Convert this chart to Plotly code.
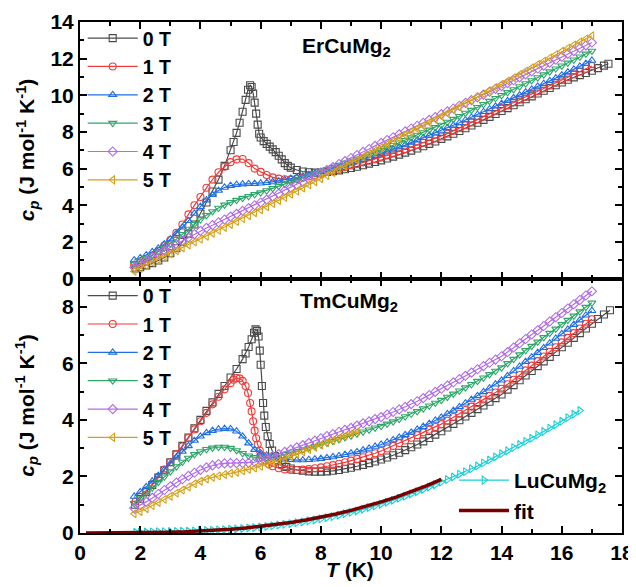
import plotly.graph_objects as go

# ---------------- data ----------------
# common temperature grid (K) for most series
T_GRID = [1.8, 2.0, 2.2, 2.4, 2.6, 2.8, 3.0, 3.2, 3.4, 3.6,
          3.8, 4.0, 4.2, 4.4, 4.6, 4.8, 5.0, 5.2, 5.4, 5.6,
          5.8, 6.0, 6.2, 6.4, 6.6, 6.8, 7.0, 7.2, 7.4, 7.6,
          7.8, 8.0, 8.2, 8.4, 8.6, 8.8, 9.0, 9.2, 9.4, 9.6,
          9.8, 10.0, 10.2, 10.4, 10.6, 10.8, 11.0, 11.2, 11.4, 11.6,
          11.8, 12.0, 12.2, 12.4, 12.6, 12.8, 13.0, 13.2, 13.4, 13.6,
          13.8, 14.0, 14.2, 14.4, 14.6, 14.8, 15.0, 15.2, 15.4, 15.6,
          15.8, 16.0, 16.2, 16.4, 16.6, 16.8, 17.0]

# ---- ErCuMg2 (top panel) ----
ER_0T = [(1.85, 0.55), (2.0, 0.62), (2.2, 0.72), (2.4, 0.84), (2.6, 0.98), (2.8, 1.15),
         (3.0, 1.38), (3.2, 1.65), (3.4, 2.0), (3.6, 2.45), (3.8, 2.95), (4.0, 3.55),
         (4.2, 4.15), (4.4, 4.75), (4.6, 5.4), (4.8, 6.15), (5.0, 7.0), (5.1, 7.45),
         (5.2, 7.95), (5.3, 8.5), (5.4, 9.1), (5.5, 9.75), (5.58, 10.3), (5.65, 10.55),
         (5.7, 10.45), (5.75, 10.1), (5.8, 9.6), (5.85, 9.0), (5.9, 8.4), (5.95, 7.9),
         (6.0, 7.7), (6.1, 7.5), (6.2, 7.35), (6.3, 7.2), (6.4, 7.05), (6.5, 6.9),
         (6.6, 6.7), (6.7, 6.5), (6.8, 6.3), (6.9, 6.15), (7.0, 6.05), (7.2, 5.92),
         (7.4, 5.84), (7.6, 5.8), (7.8, 5.78), (8.0, 5.79), (8.2, 5.82), (8.4, 5.86),
         (8.6, 5.9), (8.8, 5.96), (9.0, 6.03), (9.2, 6.1), (9.4, 6.18), (9.6, 6.27),
         (9.8, 6.36), (10.0, 6.45), (10.2, 6.55), (10.4, 6.65), (10.6, 6.76), (10.8, 6.87),
         (11.0, 6.98), (11.2, 7.1), (11.4, 7.22), (11.6, 7.35), (11.8, 7.48), (12.0, 7.62),
         (12.2, 7.76), (12.4, 7.9), (12.6, 8.05), (12.8, 8.2), (13.0, 8.35), (13.2, 8.5),
         (13.4, 8.66), (13.6, 8.82), (13.8, 8.98), (14.0, 9.14), (14.2, 9.3), (14.4, 9.46),
         (14.6, 9.62), (14.8, 9.78), (15.0, 9.94), (15.2, 10.1), (15.4, 10.25), (15.6, 10.4),
         (15.8, 10.55), (16.0, 10.7), (16.2, 10.85), (16.4, 10.98), (16.6, 11.1), (16.8, 11.22),
         (17.0, 11.34), (17.2, 11.48), (17.4, 11.62), (17.55, 11.72)]

ER_1T = [0.75, 0.88, 1.05, 1.25, 1.5, 1.8, 2.1, 2.5, 2.95, 3.5,
         4.0, 4.45, 4.95, 5.4, 5.8, 6.1, 6.35, 6.5, 6.52, 6.3,
         6.0, 5.82, 5.65, 5.52, 5.45, 5.42, 5.42, 5.45, 5.5, 5.57,
         5.65, 5.73, 5.82, 5.9, 5.99, 6.08, 6.17, 6.25, 6.34, 6.43,
         6.51, 6.6, 6.72, 6.83, 6.95, 7.06, 7.18, 7.29, 7.41, 7.52,
         7.64, 7.75, 7.9, 8.06, 8.21, 8.37, 8.52, 8.68, 8.83, 8.99,
         9.14, 9.3, 9.45, 9.61, 9.76, 9.91, 10.07, 10.22, 10.37, 10.53,
         10.68, 10.83, 10.99, 11.14, 11.29, 11.45, 11.6]

ER_2T = [1.0, 1.12, 1.28, 1.45, 1.65, 1.88, 2.15, 2.45, 2.8, 3.15,
         3.55, 3.92, 4.28, 4.58, 4.8, 4.97, 5.07, 5.12, 5.15, 5.17,
         5.18, 5.2, 5.23, 5.27, 5.32, 5.38, 5.45, 5.52, 5.59, 5.67,
         5.75, 5.83, 5.91, 6.0, 6.09, 6.18, 6.28, 6.38, 6.48, 6.59,
         6.7, 6.81, 6.93, 7.05, 7.17, 7.29, 7.42, 7.55, 7.68, 7.81,
         7.94, 8.08, 8.22, 8.36, 8.5, 8.65, 8.8, 8.95, 9.1, 9.25,
         9.4, 9.55, 9.7, 9.86, 10.01, 10.17, 10.32, 10.48, 10.63, 10.79,
         10.94, 11.1, 11.26, 11.41, 11.57, 11.73, 11.9]

ER_3T = [0.8, 0.95, 1.1, 1.27, 1.46, 1.67, 1.9, 2.15, 2.42, 2.7,
         2.97, 3.22, 3.45, 3.66, 3.85, 4.02, 4.16, 4.28, 4.39, 4.49,
         4.59, 4.69, 4.8, 4.92, 5.04, 5.16, 5.28, 5.4, 5.51, 5.62,
         5.74, 5.85, 5.96, 6.08, 6.19, 6.31, 6.42, 6.54, 6.65, 6.77,
         6.88, 7.0, 7.13, 7.27, 7.41, 7.55, 7.69, 7.83, 7.97, 8.11,
         8.25, 8.38, 8.54, 8.7, 8.86, 9.03, 9.19, 9.35, 9.51, 9.68,
         9.84, 10.0, 10.16, 10.32, 10.48, 10.64, 10.81, 10.97, 11.13, 11.29,
         11.45, 11.61, 11.77, 11.94, 12.1, 12.26, 12.42]

ER_4T = [0.62, 0.79, 0.97, 1.15, 1.33, 1.51, 1.69, 1.87, 2.05, 2.23,
         2.42, 2.6, 2.76, 2.91, 3.07, 3.22, 3.38, 3.53, 3.69, 3.84,
         4.0, 4.15, 4.31, 4.47, 4.63, 4.79, 4.95, 5.11, 5.27, 5.43,
         5.59, 5.75, 5.92, 6.08, 6.25, 6.41, 6.58, 6.74, 6.91, 7.07,
         7.24, 7.4, 7.56, 7.71, 7.87, 8.03, 8.19, 8.34, 8.5, 8.66,
         8.81, 8.97, 9.12, 9.28, 9.43, 9.59, 9.74, 9.89, 10.04, 10.2,
         10.35, 10.5, 10.66, 10.82, 10.98, 11.14, 11.3, 11.46, 11.62, 11.78,
         11.94, 12.1, 12.26, 12.41, 12.57, 12.72, 12.88]

ER_5T = [0.4, 0.56, 0.72, 0.88, 1.04, 1.2, 1.35, 1.51, 1.67, 1.83,
         1.99, 2.15, 2.31, 2.47, 2.63, 2.79, 2.95, 3.11, 3.27, 3.43,
         3.59, 3.75, 3.92, 4.09, 4.26, 4.43, 4.6, 4.77, 4.94, 5.11,
         5.28, 5.45, 5.62, 5.79, 5.96, 6.13, 6.3, 6.47, 6.64, 6.81,
         6.98, 7.15, 7.32, 7.49, 7.66, 7.83, 8.0, 8.17, 8.34, 8.51,
         8.68, 8.85, 9.02, 9.2, 9.37, 9.55, 9.72, 9.9, 10.07, 10.25,
         10.42, 10.6, 10.78, 10.96, 11.14, 11.32, 11.5, 11.68, 11.86, 12.04,
         12.22, 12.4, 12.57, 12.74, 12.91, 13.08, 13.25]

# ---- TmCuMg2 (bottom panel) ----
TM_0T = [(1.83, 1.0), (2.0, 1.2), (2.2, 1.45), (2.4, 1.7), (2.6, 1.96), (2.8, 2.22),
         (3.0, 2.5), (3.2, 2.78), (3.4, 3.08), (3.6, 3.38), (3.8, 3.7), (4.0, 4.0),
         (4.2, 4.32), (4.4, 4.62), (4.6, 4.92), (4.8, 5.2), (5.0, 5.5), (5.2, 5.8),
         (5.4, 6.15), (5.5, 6.35), (5.6, 6.58), (5.7, 6.85), (5.78, 7.08), (5.83, 7.2),
         (5.88, 7.15), (5.93, 6.95), (5.97, 6.45), (6.0, 5.95), (6.04, 5.2), (6.08, 4.6),
         (6.12, 4.15), (6.17, 3.75), (6.23, 3.42), (6.3, 3.15), (6.38, 2.92), (6.47, 2.72),
         (6.57, 2.57), (6.7, 2.44), (6.85, 2.34), (7.0, 2.28), (7.2, 2.23), (7.4, 2.2),
         (7.6, 2.18), (7.8, 2.17), (8.0, 2.17), (8.2, 2.18), (8.4, 2.2), (8.6, 2.23),
         (8.8, 2.27), (9.0, 2.31), (9.2, 2.36), (9.4, 2.41), (9.6, 2.47), (9.8, 2.53),
         (10.0, 2.6), (10.2, 2.67), (10.4, 2.75), (10.6, 2.84), (10.8, 2.93), (11.0, 3.03),
         (11.2, 3.13), (11.4, 3.24), (11.6, 3.36), (11.8, 3.48), (12.0, 3.6), (12.2, 3.73),
         (12.4, 3.86), (12.6, 3.99), (12.8, 4.12), (13.0, 4.25), (13.2, 4.38), (13.4, 4.51),
         (13.6, 4.64), (13.8, 4.77), (14.0, 4.9), (14.2, 5.07), (14.4, 5.23), (14.6, 5.4),
         (14.8, 5.57), (15.0, 5.73), (15.2, 5.9), (15.4, 6.07), (15.6, 6.23), (15.8, 6.4),
         (16.0, 6.57), (16.2, 6.73), (16.4, 6.9), (16.6, 7.07), (16.8, 7.23), (17.0, 7.4),
         (17.2, 7.57), (17.4, 7.73), (17.6, 7.88)]

TM_1T = [(1.85, 1.12), (2.0, 1.28), (2.2, 1.5), (2.4, 1.73), (2.6, 1.98), (2.8, 2.24),
         (3.0, 2.5), (3.2, 2.78), (3.4, 3.06), (3.6, 3.36), (3.8, 3.66), (4.0, 3.95),
         (4.2, 4.25), (4.4, 4.55), (4.6, 4.82), (4.8, 5.08), (5.0, 5.3), (5.1, 5.42),
         (5.2, 5.48), (5.3, 5.47), (5.4, 5.38), (5.5, 5.2), (5.58, 4.95), (5.65, 4.6),
         (5.7, 4.3), (5.75, 3.95), (5.8, 3.62), (5.85, 3.35), (5.9, 3.13), (5.97, 2.92),
         (6.05, 2.74), (6.15, 2.57), (6.27, 2.44), (6.4, 2.36), (6.6, 2.29), (6.8, 2.25),
         (7.0, 2.23), (7.2, 2.23), (7.4, 2.24), (7.6, 2.26), (7.8, 2.29), (8.0, 2.32),
         (8.2, 2.36), (8.4, 2.4), (8.6, 2.45), (8.8, 2.5), (9.0, 2.56), (9.2, 2.62),
         (9.4, 2.68), (9.6, 2.75), (9.8, 2.82), (10.0, 2.9), (10.2, 2.99), (10.4, 3.08),
         (10.6, 3.18), (10.8, 3.27), (11.0, 3.37), (11.2, 3.46), (11.4, 3.56), (11.6, 3.65),
         (11.8, 3.75), (12.0, 3.85), (12.2, 3.97), (12.4, 4.1), (12.6, 4.22), (12.8, 4.35),
         (13.0, 4.47), (13.2, 4.6), (13.4, 4.72), (13.6, 4.85), (13.8, 4.97), (14.0, 5.1),
         (14.2, 5.26), (14.4, 5.42), (14.6, 5.59), (14.8, 5.75), (15.0, 5.92), (15.2, 6.08),
         (15.4, 6.24), (15.6, 6.41), (15.8, 6.57), (16.0, 6.74), (16.2, 6.9), (16.4, 7.07),
         (16.6, 7.23), (16.8, 7.4), (17.0, 7.56)]

TM_2T = [1.29, 1.45, 1.63, 1.83, 2.03, 2.23, 2.45, 2.67, 2.88, 3.08,
         3.27, 3.42, 3.54, 3.62, 3.67, 3.69, 3.68, 3.6, 3.42, 3.18,
         2.95, 2.82, 2.74, 2.68, 2.64, 2.61, 2.59, 2.58, 2.58, 2.59,
         2.61, 2.63, 2.66, 2.69, 2.73, 2.77, 2.82, 2.87, 2.93, 2.99,
         3.06, 3.13, 3.21, 3.29, 3.38, 3.47, 3.56, 3.66, 3.76, 3.87,
         3.98, 4.09, 4.21, 4.33, 4.46, 4.59, 4.72, 4.85, 4.99, 5.12,
         5.26, 5.4, 5.56, 5.73, 5.89, 6.06, 6.22, 6.38, 6.55, 6.71,
         6.88, 7.04, 7.2, 7.37, 7.53, 7.7, 7.86]

TM_3T = [1.05, 1.22, 1.4, 1.6, 1.8, 1.99, 2.17, 2.35, 2.51, 2.65,
         2.78, 2.88, 2.96, 3.01, 3.04, 3.04, 3.0, 2.92, 2.82, 2.73,
         2.68, 2.66, 2.67, 2.7, 2.74, 2.79, 2.84, 2.89, 2.95, 3.01,
         3.07, 3.13, 3.19, 3.25, 3.31, 3.38, 3.44, 3.51, 3.58, 3.65,
         3.72, 3.78, 3.86, 3.94, 4.03, 4.12, 4.21, 4.3, 4.4, 4.5,
         4.6, 4.7, 4.81, 4.92, 5.03, 5.14, 5.26, 5.37, 5.49, 5.61,
         5.73, 5.85, 6.0, 6.15, 6.31, 6.46, 6.61, 6.76, 6.92, 7.07,
         7.22, 7.38, 7.53, 7.68, 7.83, 7.99, 8.14]

TM_4T = [0.88, 0.98, 1.1, 1.24, 1.38, 1.52, 1.65, 1.78, 1.9, 2.02,
         2.13, 2.23, 2.32, 2.39, 2.44, 2.46, 2.47, 2.47, 2.47, 2.48,
         2.51, 2.56, 2.63, 2.71, 2.79, 2.87, 2.95, 3.03, 3.11, 3.19,
         3.27, 3.35, 3.43, 3.5, 3.58, 3.65, 3.72, 3.8, 3.88, 3.95,
         4.03, 4.1, 4.19, 4.28, 4.37, 4.46, 4.56, 4.66, 4.77, 4.88,
         4.99, 5.1, 5.21, 5.33, 5.44, 5.56, 5.67, 5.79, 5.9, 6.02,
         6.13, 6.25, 6.4, 6.56, 6.71, 6.86, 7.02, 7.17, 7.32, 7.48,
         7.63, 7.78, 7.94, 8.09, 8.24, 8.4, 8.55]

# 5 T data for TmCuMg2 stop at 9.2 K
TM_5T = [0.68, 0.76, 0.86, 0.97, 1.08, 1.19, 1.3, 1.41, 1.52, 1.63,
         1.74, 1.83, 1.91, 1.97, 2.02, 2.07, 2.11, 2.15, 2.2, 2.25,
         2.3, 2.36, 2.42, 2.49, 2.56, 2.63, 2.71, 2.79, 2.87, 2.95,
         3.03, 3.11, 3.19, 3.27, 3.35, 3.43, 3.5, 3.57]

# LuCuMg2 reference and its fit
LU_T = [1.85, 2.0, 2.2, 2.4, 2.6, 2.8, 3.0, 3.2, 3.4, 3.6,
        3.8, 4.0, 4.2, 4.4, 4.6, 4.8, 5.0, 5.2, 5.4, 5.6,
        5.8, 6.0, 6.2, 6.4, 6.6, 6.8, 7.0, 7.2, 7.4, 7.6,
        7.8, 8.0, 8.2, 8.4, 8.6, 8.8, 9.0, 9.2, 9.4, 9.6,
        9.8, 10.0, 10.2, 10.4, 10.6, 10.8, 11.0, 11.2, 11.4, 11.6,
        11.8, 12.0, 12.2, 12.4, 12.6, 12.8, 13.0, 13.2, 13.4, 13.6,
        13.8, 14.0, 14.2, 14.4, 14.6, 14.8, 15.0, 15.2, 15.4, 15.6,
        15.8, 16.0, 16.2, 16.4, 16.6]
LU_CP = [0.03, 0.03, 0.035, 0.04, 0.043, 0.047, 0.05, 0.055, 0.06, 0.067,
         0.074, 0.08, 0.09, 0.1, 0.11, 0.12, 0.13, 0.145, 0.16, 0.175,
         0.19, 0.21, 0.23, 0.255, 0.28, 0.305, 0.33, 0.36, 0.39, 0.43,
         0.46, 0.5, 0.54, 0.58, 0.63, 0.68, 0.73, 0.78, 0.84, 0.9,
         0.96, 1.02, 1.09, 1.16, 1.23, 1.3, 1.38, 1.46, 1.54, 1.63,
         1.71, 1.8, 1.89, 1.98, 2.08, 2.17, 2.27, 2.37, 2.48, 2.58,
         2.69, 2.8, 2.91, 3.02, 3.13, 3.24, 3.35, 3.47, 3.59, 3.71,
         3.83, 3.95, 4.08, 4.2, 4.33]
FIT_T = [0.2, 0.5, 1.0, 1.5, 2.0, 2.5, 3.0, 3.5, 4.0, 4.5, 5.0, 5.5, 6.0,
         6.5, 7.0, 7.5, 8.0, 8.5, 9.0, 9.5, 10.0, 10.5, 11.0, 11.5, 12.0]
FIT_CP = [0.0, 0.0, 0.002, 0.004, 0.009, 0.017, 0.03, 0.047, 0.07, 0.1, 0.135, 0.18, 0.235,
          0.3, 0.37, 0.46, 0.56, 0.67, 0.8, 0.94, 1.1, 1.27, 1.46, 1.67, 1.9]

FIELDS = ["0 T", "1 T", "2 T", "3 T", "4 T", "5 T"]
COLORS = ["#4a4a4a", "#f23c3c", "#1f6fe3", "#2fa66a", "#b06ee8", "#d6a11a"]
SYMBOLS = ["square-open", "circle-open", "triangle-up-open",
           "triangle-down-open", "diamond-open", "triangle-left-open"]
LU_COLOR = "#19cfd6"
FIT_COLOR = "#7a0000"

FONT = "Arial, 'Liberation Sans', sans-serif"
FS = 21

fig = go.Figure()


def unzip(pairs):
    return [p[0] for p in pairs], [p[1] for p in pairs]


def add_series(x, y, i, xa, ya, leg):
    fig.add_trace(go.Scatter(
        x=x, y=y, name=FIELDS[i], mode="lines+markers",
        line=dict(color=COLORS[i], width=1.2),
        marker=dict(symbol=SYMBOLS[i], size=7, color=COLORS[i],
                    line=dict(width=1.1, color=COLORS[i])),
        xaxis=xa, yaxis=ya, legend=leg))


# top panel: ErCuMg2
er_series = [unzip(ER_0T), (T_GRID, ER_1T), (T_GRID, ER_2T),
             (T_GRID, ER_3T), (T_GRID, ER_4T), (T_GRID, ER_5T)]
for i, (x, y) in enumerate(er_series):
    add_series(x, y, i, "x2", "y2", "legend")

# bottom panel: TmCuMg2
tm_series = [unzip(TM_0T), unzip(TM_1T), (T_GRID, TM_2T),
             (T_GRID, TM_3T), (T_GRID, TM_4T), (T_GRID[:len(TM_5T)], TM_5T)]
for i, (x, y) in enumerate(tm_series):
    add_series(x, y, i, "x", "y", "legend2")

fig.add_trace(go.Scatter(
    x=LU_T, y=LU_CP, name="LuCuMg<sub>2</sub>", mode="lines+markers",
    line=dict(color=LU_COLOR, width=1.2),
    marker=dict(symbol="triangle-right-open", size=7, color=LU_COLOR,
                line=dict(width=1.1, color=LU_COLOR)),
    xaxis="x", yaxis="y", legend="legend3"))
fig.add_trace(go.Scatter(
    x=FIT_T, y=FIT_CP, name="fit", mode="lines",
    line=dict(color=FIT_COLOR, width=3.5),
    xaxis="x", yaxis="y", legend="legend3"))

axis_common = dict(
    showline=True, linewidth=2, linecolor="black", mirror="allticks",
    ticks="inside", ticklen=7, tickwidth=2, tickcolor="black",
    minor=dict(ticks="inside", ticklen=4, tickwidth=2, tickcolor="black", dtick=1),
    showgrid=False, zeroline=False, automargin=False, ticklabeloverflow="allow",
    tickfont=dict(family=FONT, size=FS, color="black", weight="bold"),
)

ytitle = "<i>c<sub>p</sub></i> (J mol<sup>-1</sup> K<sup>-1</sup>)"
SPLIT = 0.498
txt_font = dict(family=FONT, size=FS, color="black", weight="bold")
leg_font = dict(family=FONT, size=19.5, color="black", weight="bold")

# the page body adds an 8 px offset, so the figure is sized to fit the window
fig.update_layout(
    width=628, height=579,
    margin=dict(l=72, r=14, t=11, b=54),
    plot_bgcolor="white", paper_bgcolor="white",
    font=txt_font,
    xaxis=dict(domain=[0, 1], anchor="y", range=[0, 18], dtick=2, **axis_common),
    xaxis2=dict(domain=[0, 1], anchor="y2", range=[0, 18], dtick=2,
                matches="x", showticklabels=False, **axis_common),
    yaxis=dict(domain=[0, SPLIT], anchor="x", range=[0, 9], dtick=2, **axis_common),
    yaxis2=dict(domain=[SPLIT, 1], anchor="x2", range=[0, 14], dtick=2, **axis_common),
    legend=dict(x=0.005, y=1.006, xanchor="left", yanchor="top", itemwidth=50,
                bgcolor="rgba(0,0,0,0)", font=leg_font),
    legend2=dict(x=0.005, y=0.502, xanchor="left", yanchor="top", itemwidth=50,
                 bgcolor="rgba(0,0,0,0)", font=leg_font),
    legend3=dict(x=0.69, y=0.143, xanchor="left", yanchor="top", itemwidth=50,
                 bgcolor="rgba(0,0,0,0)", font=txt_font),
    annotations=[
        dict(text="ErCuMg<sub>2</sub>", xref="paper", yref="paper",
             x=0.405, y=0.951, xanchor="left", yanchor="middle", showarrow=False,
             font=txt_font),
        dict(text="TmCuMg<sub>2</sub>", xref="paper", yref="paper",
             x=0.402, y=0.453, xanchor="left", yanchor="middle", showarrow=False,
             font=txt_font),
        dict(text=ytitle, xref="paper", yref="paper", textangle=-90,
             x=-0.098, y=0.749, xanchor="center", yanchor="middle", showarrow=False,
             font=txt_font),
        dict(text=ytitle, xref="paper", yref="paper", textangle=-90,
             x=-0.098, y=0.249, xanchor="center", yanchor="middle", showarrow=False,
             font=txt_font),
        dict(text="<i>T</i> (K)", xref="paper", yref="paper",
             x=0.498, y=-0.072, xanchor="center", yanchor="middle", showarrow=False,
             font=txt_font),
    ],
)

fig.write_html("out.html")
